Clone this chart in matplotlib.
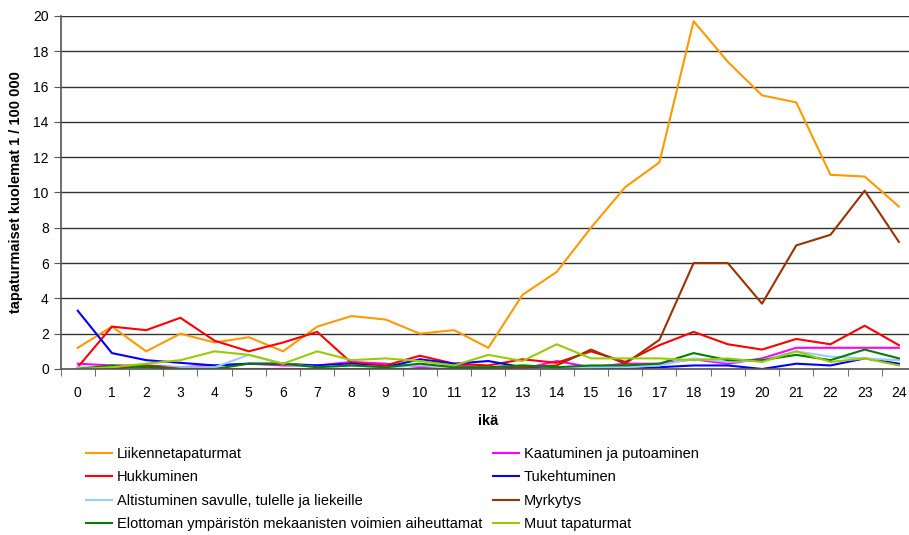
import matplotlib
matplotlib.use("Agg")
import matplotlib.pyplot as plt
import numpy as np

plt.rcParams['font.family'] = ['Liberation Sans', 'DejaVu Sans']

ages = list(range(25))

liikenne = [1.2, 2.4, 1.0, 2.0, 1.5, 1.8, 1.0, 2.4, 3.0, 2.8, 2.0, 2.2, 1.2, 4.2, 5.5,
            8.0, 10.3, 11.7, 19.7, 17.4, 15.5, 15.1, 11.0, 10.9, 9.2]
kaatuminen = [0.3, 0.2, 0.2, 0.1, 0.2, 0.3, 0.2, 0.2, 0.4, 0.3, 0.1, 0.2, 0.1, 0.0, 0.45,
              0.1, 0.3, 0.3, 0.55, 0.3, 0.6, 1.2, 1.2, 1.2, 1.2]
hukkuminen = [0.1, 2.4, 2.2, 2.9, 1.6, 1.0, 1.5, 2.1, 0.35, 0.2, 0.75, 0.3, 0.2, 0.55, 0.35,
              1.0, 0.4, 1.35, 2.1, 1.4, 1.1, 1.7, 1.4, 2.45, 1.35]
tukehtuminen = [3.3, 0.9, 0.5, 0.35, 0.2, 0.3, 0.3, 0.2, 0.3, 0.1, 0.55, 0.3, 0.45, 0.1, 0.1,
                0.1, 0.0, 0.1, 0.2, 0.2, 0.0, 0.3, 0.2, 0.6, 0.3]
altistuminen = [0.1, 0.1, 0.1, 0.1, 0.1, 0.8, 0.3, 0.1, 0.2, 0.1, 0.2, 0.1, 0.1, 0.2, 0.1,
                0.1, 0.1, 0.2, 0.6, 0.4, 0.5, 1.0, 0.7, 0.6, 0.5]
myrkytys = [0.0, 0.0, 0.2, 0.0, 0.0, 0.0, 0.0, 0.0, 0.0, 0.0, 0.0, 0.0, 0.0, 0.1, 0.2,
            1.1, 0.3, 1.65, 6.0, 6.0, 3.7, 7.0, 7.6, 10.1, 7.2]
elottoman = [0.0, 0.2, 0.1, 0.0, 0.0, 0.3, 0.3, 0.1, 0.2, 0.1, 0.3, 0.1, 0.1, 0.2, 0.1,
             0.2, 0.2, 0.3, 0.9, 0.5, 0.5, 0.8, 0.5, 1.1, 0.6]
muut = [0.0, 0.1, 0.3, 0.5, 1.0, 0.8, 0.3, 1.0, 0.5, 0.6, 0.45, 0.2, 0.8, 0.45, 1.4,
        0.6, 0.6, 0.6, 0.5, 0.6, 0.4, 1.0, 0.4, 0.6, 0.2]

series = [
    ("Liikennetapaturmat", liikenne, "#FF9900"),
    ("Kaatuminen ja putoaminen", kaatuminen, "#FF00FF"),
    ("Hukkuminen", hukkuminen, "#FF0000"),
    ("Tukehtuminen", tukehtuminen, "#0000FF"),
    ("Altistuminen savulle, tulelle ja liekeille", altistuminen, "#99CCFF"),
    ("Myrkytys", myrkytys, "#993300"),
    ("Elottoman ympäristön mekaanisten voimien aiheuttamat", elottoman, "#008000"),
    ("Muut tapaturmat", muut, "#99CC00"),
]

fig = plt.figure(figsize=(9.09, 5.35), dpi=100)
# plot area runs slightly past the right edge, like the original export
ax = fig.add_axes([0.0667, 0.3103, 0.941, 0.660])

lines = {}
for name, vals, col in series:
    l, = ax.plot(ages, vals, color=col, lw=1.5, label=name)
    lines[name] = l

ax.set_xlim(-0.5, 24.5)
ax.set_ylim(0, 20)
ax.set_yticks(range(0, 21, 2))
ax.set_xticks(ages)
ax.set_xticks(np.arange(-0.5, 25, 1), minor=True)
ax.tick_params(axis='x', which='major', length=0, labelsize=10, pad=12.5)
ax.tick_params(axis='x', which='minor', length=5, color='#555555')
ax.tick_params(axis='y', length=5, labelsize=10, color='#555555')
ax.grid(axis='y', color='#333333', lw=1)
ax.set_axisbelow(True)
for s in ['top', 'right']:
    ax.spines[s].set_visible(False)
for s in ['left', 'bottom']:
    ax.spines[s].set_color('#555555')
    ax.spines[s].set_linewidth(1.2)

ax.set_xlabel("ikä", fontsize=10.5, fontweight='bold', labelpad=10)
ax.set_ylabel("tapaturmaiset kuolemat 1 / 100 000", fontsize=10.5, fontweight='bold', labelpad=7)

order = ["Liikennetapaturmat", "Hukkuminen", "Altistuminen savulle, tulelle ja liekeille",
         "Elottoman ympäristön mekaanisten voimien aiheuttamat",
         "Kaatuminen ja putoaminen", "Tukehtuminen", "Myrkytys", "Muut tapaturmat"]
fig.legend([lines[n] for n in order], order, ncol=2, frameon=False, fontsize=10.5,
           loc='upper left', bbox_to_anchor=(0.0946, 0.1645), handlelength=1.8,
           columnspacing=0.75, labelspacing=0.64, handletextpad=0.3,
           borderpad=0, borderaxespad=0)

fig.savefig("out.png", dpi=100)
